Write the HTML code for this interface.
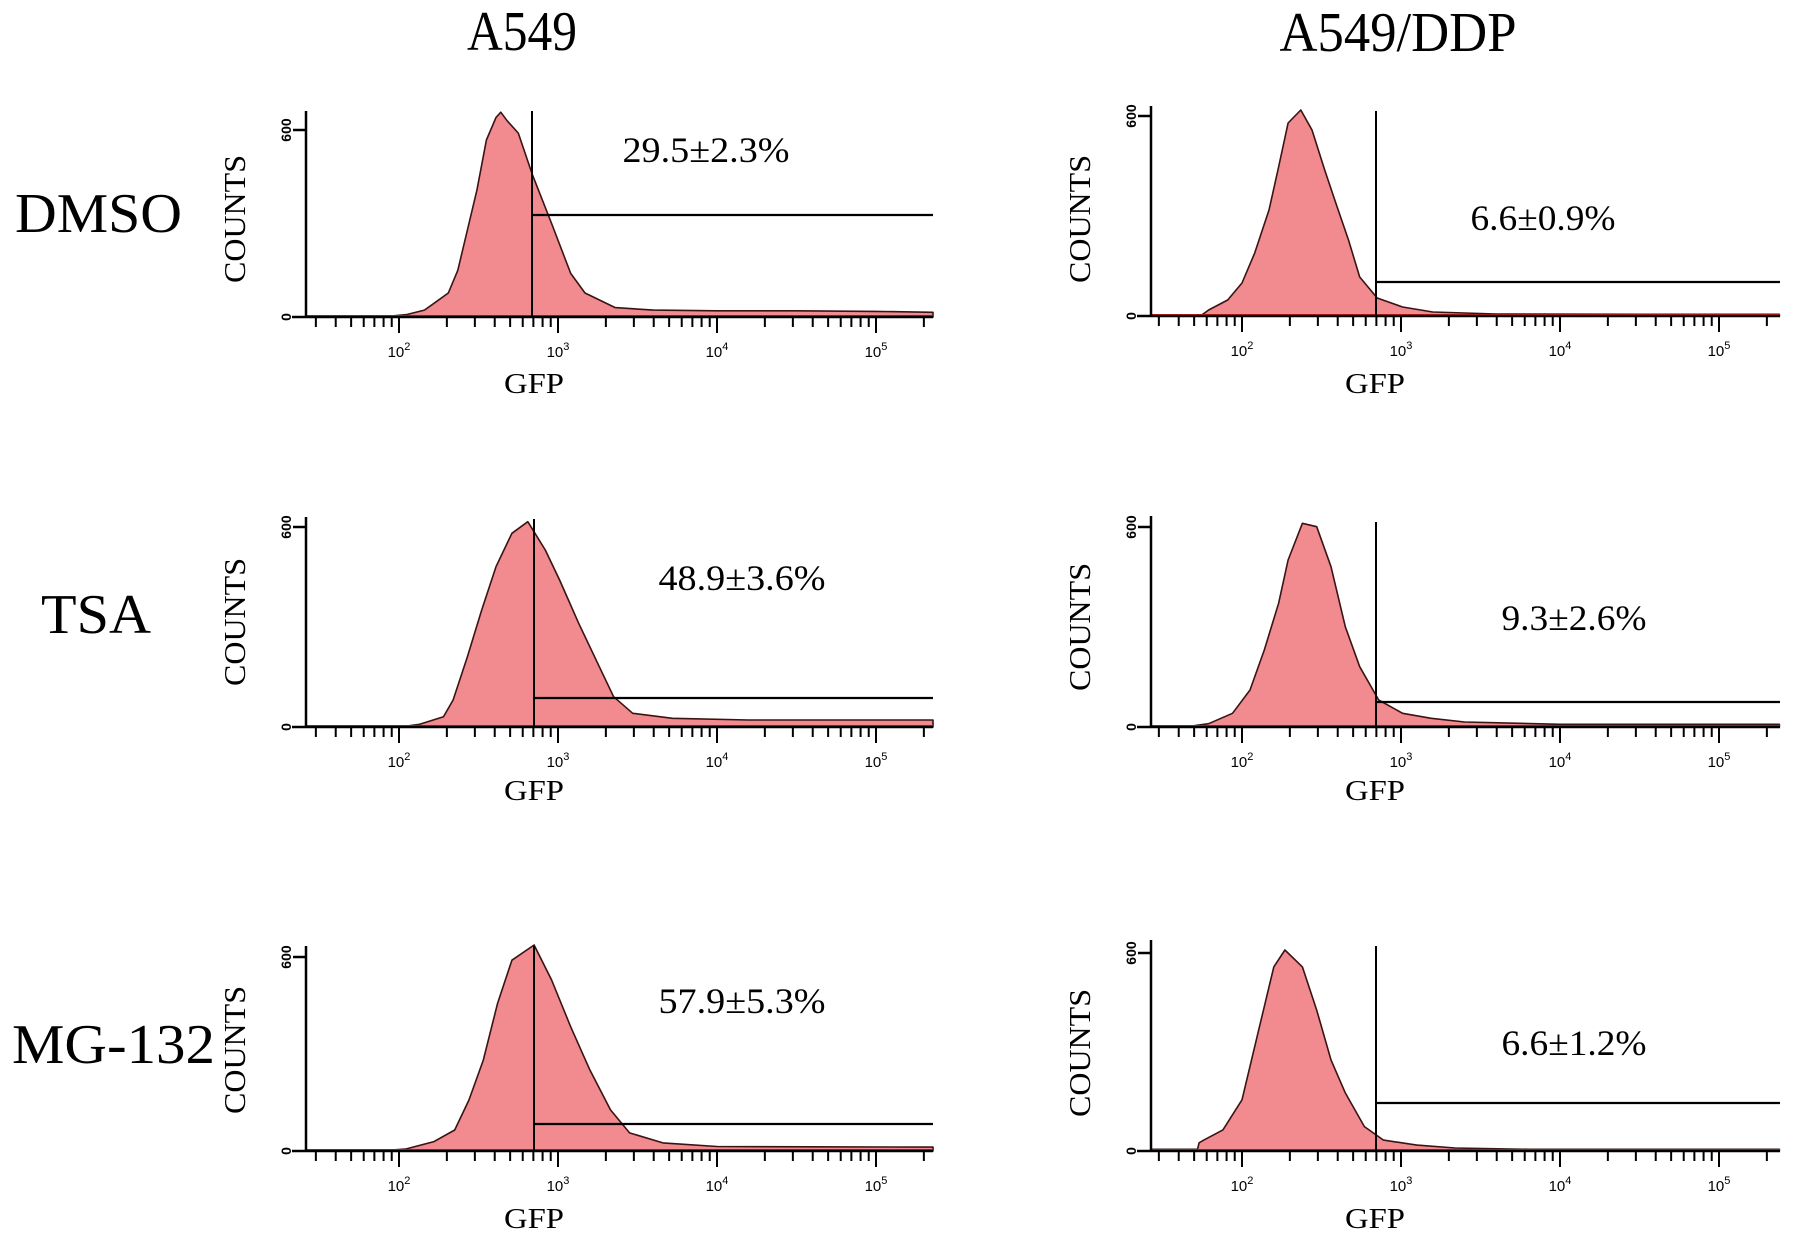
<!DOCTYPE html>
<html><head><meta charset="utf-8"><style>
html,body{margin:0;padding:0;background:#fff;}
svg{display:block;font-family:"Liberation Serif",serif;}
</style></head><body>
<svg id="fig" width="1795" height="1241" viewBox="0 0 1795 1241" xmlns="http://www.w3.org/2000/svg">
<text x="522" y="50" font-size="56" text-anchor="middle" textLength="110" lengthAdjust="spacingAndGlyphs">A549</text>
<text x="1398" y="51" font-size="56" text-anchor="middle" textLength="237" lengthAdjust="spacingAndGlyphs">A549/DDP</text>
<text x="15" y="232" font-size="56" textLength="167" lengthAdjust="spacingAndGlyphs">DMSO</text>
<text x="41" y="633" font-size="56" textLength="110" lengthAdjust="spacingAndGlyphs">TSA</text>
<text x="12" y="1063" font-size="56" textLength="203" lengthAdjust="spacingAndGlyphs">MG-132</text>
<g id="panels"></g>
</svg>
<script>
// Histogram data: log10(GFP) positions and counts (0-600 scale)
const logA = [1.45,1.95,2.05,2.16,2.22,2.31,2.37,2.43,2.49,2.55,2.61,2.64,2.68,2.75,2.84,2.96,3.08,3.17,3.36,3.6,4.0,4.5,5.0,5.41];
const cntA = [2,3,8,22,44,77,150,279,407,568,640,657,630,590,455,300,140,77,30,22,20,20,18,15];
const logB = [1.43,1.75,1.79,1.91,2.0,2.08,2.17,2.23,2.29,2.37,2.44,2.52,2.59,2.67,2.74,2.85,3.01,3.2,3.6,4.5,5.38];
const cntB = [3,4,18,48,99,189,318,447,579,618,558,438,339,228,117,54,27,12,6,5,5];
const logC = [1.45,2.05,2.13,2.28,2.34,2.43,2.52,2.61,2.71,2.81,2.92,3.01,3.13,3.26,3.35,3.47,3.72,4.2,4.8,5.41];
const cntC = [3,3,8,31,81,211,351,481,581,616,531,441,311,181,91,41,26,21,21,21];
const logD = [1.43,1.7,1.79,1.94,2.05,2.14,2.23,2.29,2.38,2.47,2.56,2.65,2.74,2.86,3.01,3.19,3.4,4.0,5.38];
const cntD = [3,4,10,41,111,231,371,501,611,601,481,301,181,81,41,26,15,8,8];
const logE = [1.45,1.95,2.04,2.22,2.35,2.44,2.53,2.62,2.71,2.85,2.96,3.08,3.2,3.33,3.45,3.66,4.0,4.6,5.41];
const cntE = [2,3,6,29,65,158,281,457,590,637,529,384,251,127,56,25,14,13,12];
const logF = [1.43,1.72,1.73,1.76,1.88,2.0,2.11,2.2,2.27,2.38,2.47,2.56,2.65,2.77,2.89,3.1,3.34,3.8,5.38];
const cntF = [5,5,25,33,64,155,377,558,609,558,427,276,176,74,33,18,9,5,5];
const gateLabels = ["29.5±2.3%","6.6±0.9%","48.9±3.6%","9.3±2.6%","57.9±5.3%","6.6±1.2%"];
const decadeLabels = ["2","3","4","5"];

const NS = "http://www.w3.org/2000/svg";
const panelsG = document.getElementById('panels');
function mk(tag, attrs, parent){
  const e = document.createElementNS(NS, tag);
  for (const k in attrs) e.setAttribute(k, attrs[k]);
  (parent||panelsG).appendChild(e);
  return e;
}
// layout (pixels)
const layouts = [
  {ax:306,x2:399,dec:159,xe:933,base:317,y600:130,top:111,gx:532,gy:215,gtop:111,tx:706,ty:150,tw:167,cx:234,cy:219,lx:534,ly:393},
  {ax:1151,x2:1242,dec:159,xe:1780,base:316,y600:116,top:106,gx:1376,gy:282,gtop:111,tx:1543,ty:218,tw:145,cx:1079,cy:219,lx:1375,ly:393},
  {ax:306,x2:399,dec:159,xe:933,base:727,y600:527,top:517,gx:534,gy:698,gtop:519,tx:742,ty:578,tw:167,cx:234,cy:622,lx:534,ly:800},
  {ax:1151,x2:1242,dec:159,xe:1780,base:727,y600:527,top:516,gx:1376,gy:702,gtop:522,tx:1574,ty:618,tw:145,cx:1079,cy:627,lx:1375,ly:800},
  {ax:306,x2:399,dec:159,xe:933,base:1151,y600:957,top:946,gx:534,gy:1124,gtop:946,tx:742,ty:1001,tw:167,cx:234,cy:1050,lx:534,ly:1228},
  {ax:1151,x2:1242,dec:159,xe:1780,base:1151,y600:953,top:940,gx:1376,gy:1103,gtop:946,tx:1574,ty:1043,tw:145,cx:1079,cy:1053,lx:1375,ly:1228}
];
const seriesLog = [logA,logB,logC,logD,logE,logF];
const seriesCnt = [cntA,cntB,cntC,cntD,cntE,cntF];

layouts.forEach((L, i) => {
  const g = mk('g', {});
  
  
  const xS = v => L.x2 + (v - 2) * L.dec;
  const yS = c => L.base - c / 600 * (L.base - L.y600);
  const lg = seriesLog[i], cn = seriesCnt[i];
  const xmax = L.xe;
  let d = 'M' + xS(lg[0]).toFixed(1) + ',' + L.base;
  for (let k = 0; k < lg.length; k++) d += ' L' + Math.min(xS(lg[k]), xmax).toFixed(1) + ',' + yS(cn[k]).toFixed(1);
  d += ' L' + Math.min(xS(lg[lg.length-1]), xmax).toFixed(1) + ',' + L.base + ' Z';
  const area = mk('path', {d: d, fill: '#f28b8f', stroke: '#3a1414', 'stroke-width': 1.6, 'stroke-linejoin': 'round'}, g);
  
  
  const rl = mk('line', {x1: L.ax, y1: L.base - 1, x2: L.xe, y2: L.base - 1, stroke: '#d42020', 'stroke-width': 2}, g);
  
  
  const ya = mk('line', {x1: L.ax, y1: L.top, x2: L.ax, y2: L.base, stroke: '#000', 'stroke-width': 2.5}, g);
  
  
  const xa = mk('line', {x1: L.ax - 14, y1: L.base, x2: L.xe, y2: L.base, stroke: '#000', 'stroke-width': 2.5}, g);
  
  
  const t6 = mk('line', {x1: L.ax - 13, y1: L.y600, x2: L.ax, y2: L.y600, stroke: '#000', 'stroke-width': 2.5}, g);
  
  
  const l6 = mk('text', {x: L.ax - 20, y: L.y600 + 5, 'font-size': 14, 'font-family': 'Liberation Sans, sans-serif', 'font-weight': 'bold', 'text-anchor': 'middle', transform: 'rotate(-90 ' + (L.ax - 20) + ' ' + L.y600 + ')'}, g);
  l6.textContent = '600';
  
  
  const l0 = mk('text', {x: L.ax - 20, y: L.base + 5, 'font-size': 14, 'font-family': 'Liberation Sans, sans-serif', 'font-weight': 'bold', 'text-anchor': 'middle', transform: 'rotate(-90 ' + (L.ax - 20) + ' ' + L.base + ')'}, g);
  l0.textContent = '0';
  
  
  for (let e = 1; e <= 5; e++) {
    for (let m = 1; m <= 9; m++) {
      const v = e + Math.log10(m);
      const x = xS(v);
      if (x < L.ax + 4 || x > L.xe + 1) continue;
      const major = m === 1;
      const tk = mk('line', {x1: x, y1: L.base, x2: x, y2: L.base + (major ? 16 : 10), stroke: '#000', 'stroke-width': 2}, g);
      
      
    }
  }
  decadeLabels.forEach(p => {
    const x = xS(+p);
    const tl = mk('text', {x: x, y: L.base + 40, 'font-size': 15, 'font-family': 'Liberation Sans, sans-serif', 'text-anchor': 'middle'}, g);
    
    
    const a = document.createElementNS(NS, 'tspan'); a.textContent = '10'; tl.appendChild(a);
    const b = document.createElementNS(NS, 'tspan'); b.setAttribute('dy', '-7'); b.setAttribute('font-size', '11'); b.textContent = p; tl.appendChild(b);
  });
  const gv = mk('line', {x1: L.gx, y1: L.gtop, x2: L.gx, y2: L.base, stroke: '#000', 'stroke-width': 2}, g);
  
  
  const gh = mk('line', {x1: L.gx, y1: L.gy, x2: L.xe, y2: L.gy, stroke: '#000', 'stroke-width': 2.2}, g);
  
  
  const gt = mk('text', {x: L.tx, y: L.ty + 12, 'font-size': 36, 'text-anchor': 'middle', textLength: L.tw, lengthAdjust: 'spacingAndGlyphs'}, g);
  gt.textContent = gateLabels[i];
  
  
  const ct = mk('text', {x: L.cx + 11, y: L.cy, 'font-size': 31, 'text-anchor': 'middle', transform: 'rotate(-90 ' + (L.cx + 11) + ' ' + L.cy + ')', textLength: 128, lengthAdjust: 'spacingAndGlyphs'}, g);
  ct.textContent = 'COUNTS';
  
  
  const xt = mk('text', {x: L.lx, y: L.ly, 'font-size': 29, 'text-anchor': 'middle', textLength: 60, lengthAdjust: 'spacingAndGlyphs'}, g);
  xt.textContent = 'GFP';
  
  
});
</script>
</body></html>
